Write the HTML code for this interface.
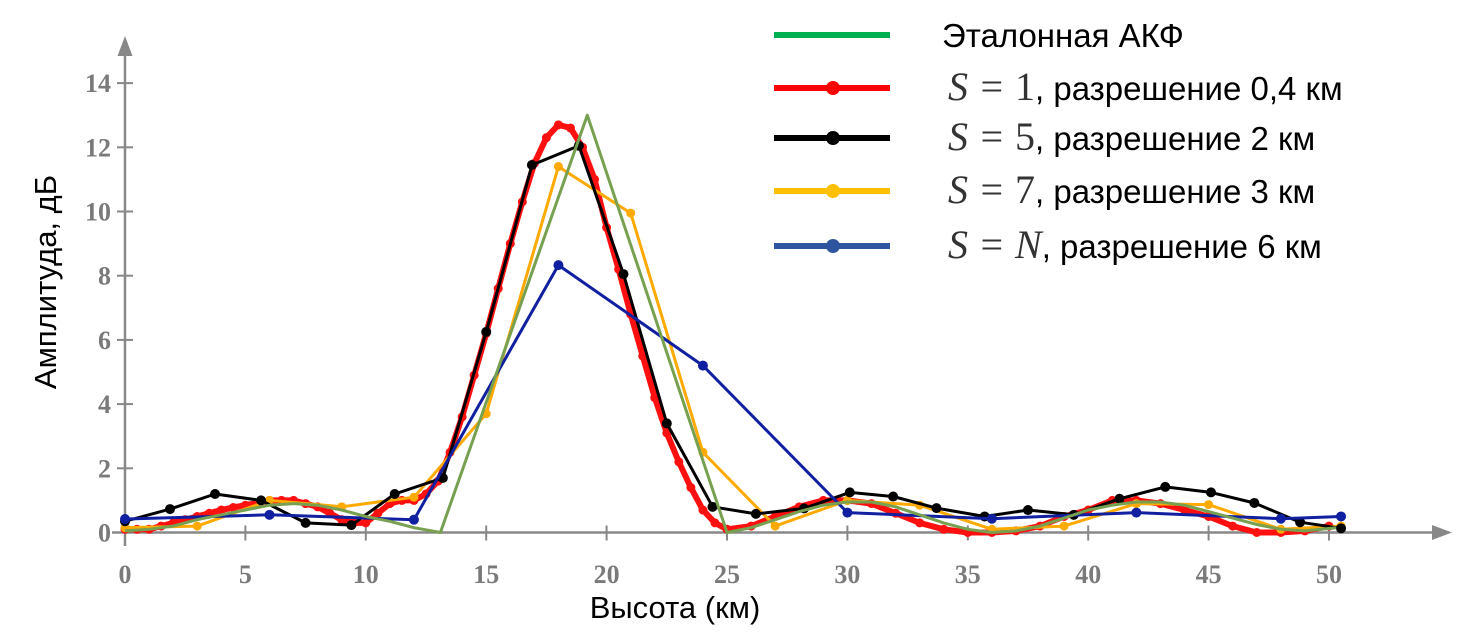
<!DOCTYPE html>
<html><head><meta charset="utf-8">
<style>
html,body{margin:0;padding:0;background:#fff;}
svg{display:block;}
.tick{font-family:"Liberation Serif",serif;font-size:26px;font-weight:bold;fill:#7a7a7a;}
.title{font-family:"Liberation Sans","Noto Sans CJK JP",sans-serif;font-size:31px;fill:#000;}
.leg{font-family:"Liberation Sans","Noto Sans CJK JP",sans-serif;font-size:33px;fill:#000;}
.math{font-family:"Liberation Serif",serif;font-size:40px;fill:#333;}
</style></head>
<body>
<svg id="chart" width="1472" height="642" viewBox="0 0 1472 642">
<g id="axes"></g>
<g id="series"></g>
<g id="legend"></g>
<text class="title" x="675" y="618" text-anchor="middle">Высота (км)</text>
<text class="title" transform="translate(56,282) rotate(-90)" text-anchor="middle">Амплитуда, дБ</text>
</svg>
<script>
const xTicks=[0,5,10,15,20,25,30,35,40,45,50];
const yTicks=[0,2,4,6,8,10,12,14];
const greenX=[0,1,2,3,4,5,6,7,8,9,10,11,12,13.1,19.2,25,26,27,28,29,30,31,32,33,34,35,36,37,38,39,40,41,42,43,44,45,46,47,48,49,50.3];
const greenY=[0.05,0.1,0.2,0.4,0.55,0.7,0.85,0.9,0.85,0.7,0.5,0.35,0.15,0,13,0,0.15,0.4,0.65,0.85,0.95,0.95,0.8,0.55,0.3,0.1,0,0.05,0.2,0.45,0.7,0.85,0.95,0.95,0.85,0.65,0.45,0.25,0.1,0.05,0.15];
const redX=[0,0.5,1,1.5,2,2.5,3,3.5,4,4.5,5,5.5,6,6.5,7,7.5,8,8.5,9,9.5,10,10.5,11,11.5,12,12.5,13,13.5,14,14.5,15,15.5,16,16.5,17,17.5,18,18.5,19,19.5,20,20.5,21,21.5,22,22.5,23,23.5,24,24.5,25,26,27,28,29,30,31,32,33,34,35,36,37,38,39,40,41,42,43,44,45,46,47,48,49,50];
const redY=[0.1,0.1,0.1,0.2,0.3,0.4,0.5,0.6,0.7,0.78,0.85,0.92,1.0,1.0,1.0,0.9,0.8,0.6,0.4,0.3,0.3,0.6,0.9,1.0,1.0,1.2,1.6,2.5,3.6,4.9,6.2,7.6,9.0,10.3,11.5,12.3,12.7,12.6,12.0,11.0,9.5,8.2,6.8,5.5,4.2,3.1,2.2,1.4,0.7,0.3,0.1,0.2,0.5,0.8,1.0,1.0,0.9,0.6,0.3,0.1,0.0,0.0,0.05,0.2,0.5,0.7,1.0,1.0,0.9,0.7,0.5,0.2,0.0,0.0,0.05,0.2];
const blackX=[0,1.87,3.74,5.65,7.5,9.4,11.2,13.2,15,16.9,18.85,20.7,22.5,24.4,26.2,28.2,30.1,31.9,33.7,35.7,37.5,39.4,41.3,43.2,45.1,46.9,48.8,50.5];
const blackY=[0.35,0.73,1.2,1.0,0.3,0.23,1.2,1.7,6.25,11.45,12.05,8.05,3.4,0.8,0.58,0.75,1.25,1.12,0.76,0.5,0.7,0.55,1.05,1.42,1.25,0.92,0.32,0.13];
const orangeX=[0,3,6,9,12,15,18,21,24,27,30,33,36,39,42,45,48,50.5];
const orangeY=[0.15,0.2,1.0,0.8,1.1,3.7,11.4,9.95,2.5,0.2,1.0,0.85,0.1,0.2,0.9,0.87,0.1,0.2];
const blueX=[0,6,12,18,24,30,36,42,48,50.5];
const blueY=[0.42,0.55,0.4,8.33,5.2,0.62,0.43,0.62,0.43,0.5];

const NS='http://www.w3.org/2000/svg';
const X0=125,XS=24.08,Y0=532.5,YS=32.1;
function sx(v){return X0+v*XS;}
function sy(v){return Y0-v*YS;}
function mk(tag,attrs,parent){const e=document.createElementNS(NS,tag);for(const k in attrs)e.setAttribute(k,attrs[k]);parent.appendChild(e);return e;}

const axes=document.getElementById('axes');
let ax=mk('line',{x1:112,y1:sy(0),x2:1440,y2:sy(0),stroke:'#888','stroke-width':2.5},axes);


let ar=mk('polygon',{points:'1452,532.5 1432,525 1432,540',fill:'#888'},axes);


let ay=mk('line',{x1:X0,y1:48,x2:X0,y2:546,stroke:'#888','stroke-width':2.5},axes);


let ar2=mk('polygon',{points:'125,36 117.5,56 132.5,56',fill:'#888'},axes);


xTicks.forEach(t=>{
  let l=mk('line',{x1:sx(t),y1:Y0-7,x2:sx(t),y2:Y0+8,stroke:'#888','stroke-width':2},axes);
  
  
  let tx=mk('text',{x:sx(t),y:583,'text-anchor':'middle',class:'tick'},axes);
  tx.textContent=t;
  
  
});
yTicks.forEach(t=>{
  let l=mk('line',{x1:X0-8,y1:sy(t),x2:X0+8,y2:sy(t),stroke:'#888','stroke-width':2},axes);
  
  
  let tx=mk('text',{x:111,y:sy(t)+9,'text-anchor':'end',class:'tick'},axes);
  tx.textContent=t;
  
  
});

const ser=document.getElementById('series');
function series(xs,ys,color,w,r,name){
  const g=mk('g',{},ser);
  
  
  const pts=xs.map((x,i)=>sx(x).toFixed(1)+','+sy(ys[i]).toFixed(1)).join(' ');
  const p=mk('polyline',{points:pts,fill:'none',stroke:color,'stroke-width':w,'stroke-linejoin':'round'},g);
  
  
  if(r>0){xs.forEach((x,i)=>{
    const c=mk('circle',{cx:sx(x),cy:sy(ys[i]),r:r,fill:color},g);
    
    
  });}
}
series(redX,redY,'#ff1010',6,4.5,'series-s1');
series(orangeX,orangeY,'#ffaa00',3,4.5,'series-s7');
series(blackX,blackY,'#000',3,5,'series-s5');
series(blueX,blueY,'#1020a0',3,5,'series-sn');
series(greenX,greenY,'#77a050',3,0,'series-reference');

const leg=document.getElementById('legend');
const legItems=[
 {y:35,c:'#00b050',dot:false,math:'',num:'',txt:'Эталонная АКФ',tx:942},
 {y:88,c:'#ff0000',dot:true,math:'S',num:'1',txt:', разрешение 0,4 км',tx:948},
 {y:138,c:'#000000',dot:true,math:'S',num:'5',txt:', разрешение 2 км',tx:948},
 {y:191,c:'#ffc000',dot:true,math:'S',num:'7',txt:', разрешение 3 км',tx:948},
 {y:246,c:'#2f55a0',dot:true,math:'S',num:'N',txt:', разрешение 6 км',tx:948}
];
legItems.forEach((it,i)=>{
  const g=mk('g',{},leg);
  
  
  mk('line',{x1:774,y1:it.y,x2:890,y2:it.y,stroke:it.c,'stroke-width':6},g);
  if(it.dot) mk('circle',{cx:833,cy:it.y,r:7,fill:it.c},g);
  const t=mk('text',{x:it.tx,y:it.y+12,class:'leg'},g);
  if(it.math){
    const m=document.createElementNS(NS,'tspan');
    m.setAttribute('class','math');
    m.setAttribute('font-style','italic');
    m.textContent=it.math+' = ';
    t.appendChild(m);
    const n=document.createElementNS(NS,'tspan');
    n.setAttribute('class','math');
    if(it.num==='N') n.setAttribute('font-style','italic');
    n.textContent=it.num;
    t.appendChild(n);
  }
  const s=document.createElementNS(NS,'tspan');
  s.textContent=it.txt;
  t.appendChild(s);
});
</script>
</body></html>
